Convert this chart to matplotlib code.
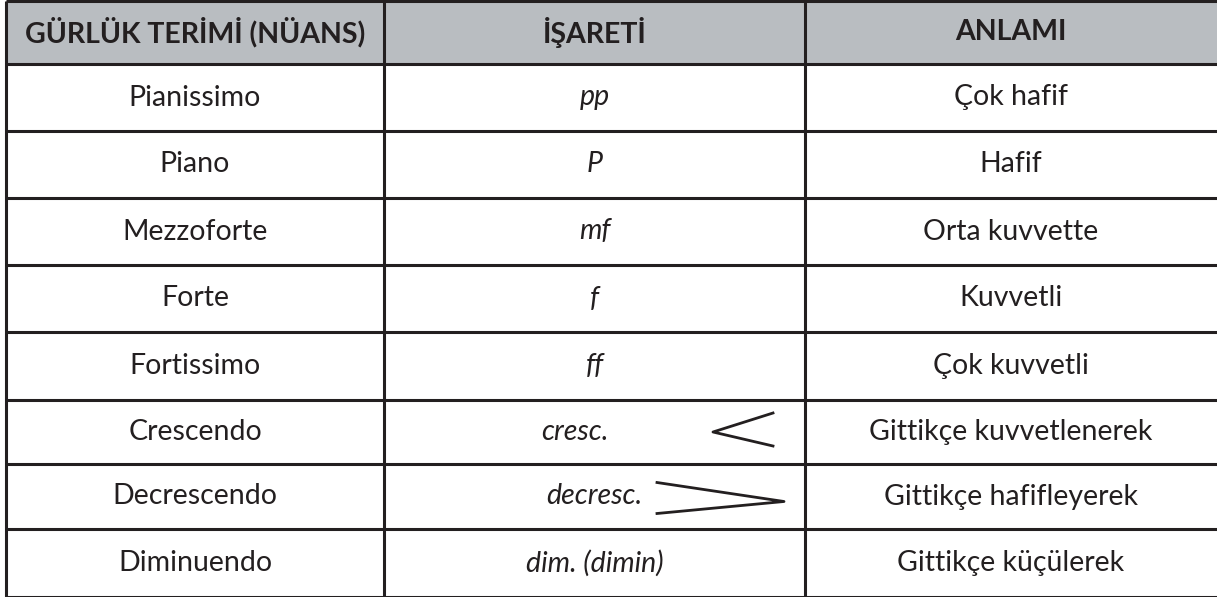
import matplotlib.pyplot as plt
from matplotlib.patches import Rectangle

# table content
headers = ["GÜRLÜK TERİMİ (NÜANS)", "İŞARETİ", "ANLAMI"]
terms = ["Pianissimo", "Piano", "Mezzoforte", "Forte", "Fortissimo",
         "Crescendo", "Decrescendo", "Diminuendo"]
signs = ["pp", "P", "mf", "f", "ff", "cresc.", "decresc.", "dim. (dimin)"]
meanings = ["Çok hafif", "Hafif", "Orta kuvvette", "Kuvvetli", "Çok kuvvetli",
            "Gittikçe kuvvetlenerek", "Gittikçe hafifleyerek", "Gittikçe küçülerek"]
# hairpin shape per row: "<" opening, ">" closing, None
hairpins = [None, None, None, None, None, "<", ">", None]

W, H = 1217, 597
col_edges = [6, 384, 805, 1217]
row_edges = [1, 64, 131, 198, 265, 332, 400, 464, 529, 597]

TEXT = "#231f20"
GRID = "#231f20"
HEAD_BG = "#b9bdc1"
FONT = "Lato"
BODY_SIZE = 20.5
HEAD_SIZE = 20.5

fig = plt.figure(figsize=(W / 100, H / 100), dpi=100)
ax = fig.add_axes([0, 0, 1, 1])
ax.set_xlim(0, W)
ax.set_ylim(H, 0)
ax.axis("off")

# header background
ax.add_patch(Rectangle((col_edges[0], row_edges[0]), col_edges[-1] - col_edges[0],
                       row_edges[1] - row_edges[0], facecolor=HEAD_BG, edgecolor="none"))

# grid lines
for y in row_edges:
    ax.plot([col_edges[0], col_edges[-1]], [y, y], color=GRID, lw=2.2, solid_capstyle="butt")
for x in col_edges[:-1]:
    ax.plot([x, x], [row_edges[0], H], color=GRID, lw=2.2, solid_capstyle="butt")

centers_x = [(col_edges[i] + col_edges[i + 1]) / 2 for i in range(3)]

# header text
hy = (row_edges[0] + row_edges[1]) / 2
for cx, h in zip(centers_x, headers):
    ax.text(cx, hy, h, ha="center", va="center", fontsize=HEAD_SIZE, fontweight="bold",
            color=TEXT, family=FONT)

# body rows
for i, (t, s, m, hp) in enumerate(zip(terms, signs, meanings, hairpins)):
    y0, y1 = row_edges[i + 1], row_edges[i + 2]
    cy = (y0 + y1) / 2
    ax.text(centers_x[0], cy, t, ha="center", va="center", fontsize=BODY_SIZE,
            color=TEXT, family=FONT)
    ax.text(centers_x[2], cy, m, ha="center", va="center", fontsize=BODY_SIZE,
            color=TEXT, family=FONT)
    sx = centers_x[1]
    if hp == "<":
        sx = centers_x[1] - 20
    ax.text(sx, cy, s, ha="center", va="center", fontsize=BODY_SIZE, style="italic",
            color=TEXT, family=FONT)
    if hp == "<":
        tip, end = 713, 773
        ax.plot([end, tip, end], [cy - 19, cy, cy + 14], color=TEXT, lw=2)
    elif hp == ">":
        start, tip = 657, 784
        ax.plot([start, tip, start], [cy - 14, cy + 5, cy + 17], color=TEXT, lw=2)

fig.savefig("out.png", dpi=100)
